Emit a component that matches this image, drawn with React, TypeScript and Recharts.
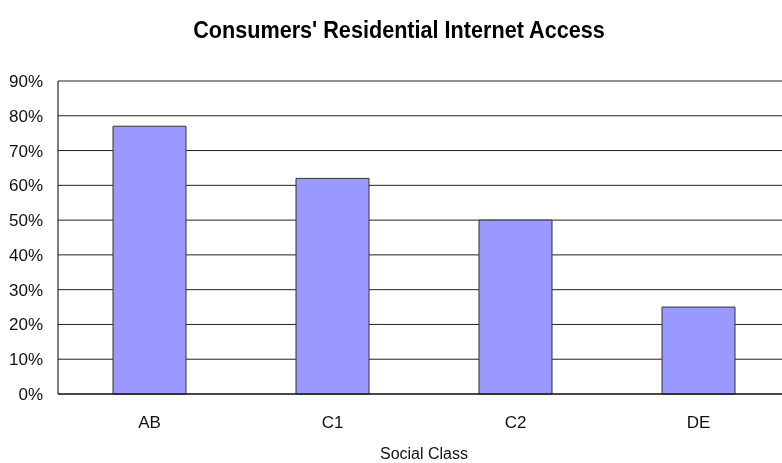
import React from 'react';
import { BarChart, Bar, XAxis, YAxis, CartesianGrid } from 'recharts';

const categories = ['AB', 'C1', 'C2', 'DE'];
const access = [0.77, 0.62, 0.5, 0.25];
const yTicks = [0, 0.1, 0.2, 0.3, 0.4, 0.5, 0.6, 0.7, 0.8, 0.9];

const data = categories.map((c, i) => ({ name: c, value: access[i] }));

const FONT = '"Liberation Sans", Arial, sans-serif';

export default function App() {
  return (
    <div style={{ position: 'fixed', left: 8, top: 8, width: 782, height: 455, fontFamily: FONT, overflow: 'hidden' }}>
      <style>{`html,body{overflow:hidden}`}</style>
      <div
        style={{
          position: 'absolute',
          left: 0,
          width: 782,
          top: 9,
          textAlign: 'center',
          fontWeight: 'bold',
          fontSize: 23,
          color: '#000',
          lineHeight: '26px',
          transform: 'scaleX(0.94)',
          transformOrigin: '391px 50%',
          zIndex: 1,
        }}
      >
        Consumers' Residential Internet Access
      </div>
      <BarChart
        width={782}
        height={455}
        data={data}
        margin={{ top: 73, right: 0, bottom: 0, left: 0 }}
      >
        <CartesianGrid vertical={false} stroke="#222" />
        <XAxis
          dataKey="name"
          height={69}
          tickLine={false}
          axisLine={{ stroke: '#000' }}
          tick={{ fill: '#111', fontSize: 17, fontFamily: FONT }}
          tickMargin={16}
          label={{ value: 'Social Class', position: 'insideBottom', offset: 4, fill: '#111', fontSize: 16, fontFamily: FONT }}
        />
        <YAxis
          width={50}
          domain={[0, 0.9]}
          ticks={yTicks}
          tickFormatter={(v: number) => `${Math.round(v * 100)}%`}
          tickLine={false}
          axisLine={{ stroke: '#000' }}
          tick={{ fill: '#111', fontSize: 17, fontFamily: FONT }}
          tickMargin={9}
          interval={0}
        />
        <Bar dataKey="value" fill="#9999FF" stroke="#333" strokeWidth={1} isAnimationActive={false} barSize={73} />
      </BarChart>
    </div>
  );
}
